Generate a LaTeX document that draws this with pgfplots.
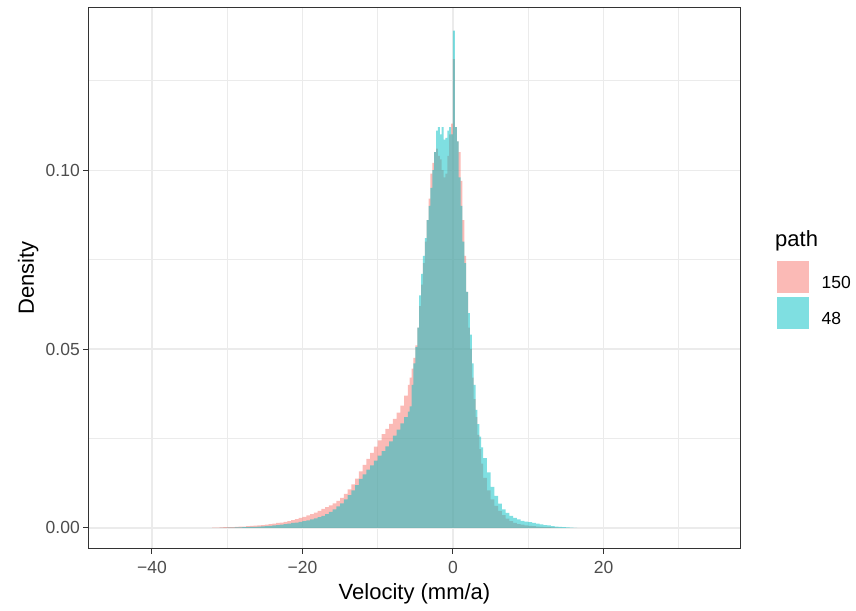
\documentclass[border=0pt]{standalone}
\usepackage{fontspec}
\setmainfont{Liberation Sans}
\usepackage{pgfplots}
\pgfplotsset{compat=1.18}
\definecolor{c150}{HTML}{F8766D}
\definecolor{c48}{HTML}{00BFC4}
\definecolor{gridgray}{HTML}{EBEBEB}
\definecolor{tickgray}{HTML}{4D4D4D}
\definecolor{framegray}{HTML}{333333}

\begin{document}
\begin{tikzpicture}
\begin{axis}[
    scale only axis,
    width=651bp, height=540bp,
    xmin=-48.37, xmax=38.14,
    ymin=-0.0056, ymax=0.1453,
    clip=false,
    xtick={-40,-20,0,20},
    xticklabels={−40,−20,0,20},
    ytick={0,0.05,0.10},
    yticklabels={0.00,0.05,0.10},
    minor xtick={-30,-10,10,30},
    minor ytick={0.025,0.075,0.125},
    grid=both,
    major grid style={gridgray, line width=1.1bp},
    minor grid style={gridgray, line width=0.55bp},
    tick align=outside,
    xtick pos=lower, ytick pos=left,
    major tick length=5.5bp, minor tick length=0pt,
    tick style={framegray, line width=1bp},
    axis line style={framegray, line width=1bp},
    ticklabel style={font=\fontsize{17.5bp}{20bp}\selectfont, text=tickgray, inner sep=0pt},
    xticklabel style={anchor=north, yshift=-7.5bp},
    yticklabel style={anchor=east, xshift=-3.5bp},
    every axis x label/.style={at={(axis description cs:0.5,0)}, yshift=-51bp, anchor=base},
    every axis y label/.style={at={(axis description cs:0,0.5)}, xshift=-55bp, rotate=90, anchor=base},
    label style={font=\fontsize{22bp}{26bp}\selectfont, inner sep=0pt},
    xlabel={Velocity (mm/a)},
    ylabel={Density},
    legend image code/.code={\fill[#1] (0bp,-9.7bp) rectangle (32bp,22.3bp);},
    legend style={at={(axis description cs:1,0.532)}, xshift=36.7bp, anchor=north west,
        draw=none, fill=none, inner sep=0pt, outer sep=0pt,
        row sep=4bp, column sep=13bp,
        font=\fontsize{17.5bp}{20bp}\selectfont,
        nodes={inner sep=0pt}},
    legend cell align=left,
]

% path = 150
\addplot[const plot, draw=none, fill=c150, fill opacity=0.5] coordinates {
(-32,0.0001) (-31.5,0.0001) (-31,0.00015) (-30.5,0.0002) (-30,0.0002) (-29.5,0.00025)
(-29,0.0003) (-28.5,0.00035) (-28,0.0004) (-27.5,0.0005) (-27,0.00055) (-26.5,0.00065)
(-26,0.0007) (-25.5,0.0008) (-25,0.0009) (-24.5,0.0011) (-24,0.0012) (-23.5,0.0014)
(-23,0.0015) (-22.5,0.0017) (-22,0.0019) (-21.5,0.0022) (-21,0.0025) (-20.5,0.0028)
(-20,0.0031) (-19.5,0.0035) (-19,0.0039) (-18.5,0.0043) (-18,0.0048) (-17.5,0.0053)
(-17,0.0058) (-16.5,0.0063) (-16,0.0069) (-15.5,0.0076) (-15,0.0084) (-14.5,0.0095)
(-14,0.0108) (-13.5,0.0122) (-13,0.0138) (-12.5,0.0158) (-12,0.0176) (-11.5,0.0193)
(-11,0.0210) (-10.5,0.0227) (-10,0.0245) (-9.5,0.0262) (-9,0.0277) (-8.5,0.0291)
(-8,0.0305) (-7.5,0.0322) (-7,0.0342) (-6.5,0.0370)
(-6,0.0400) (-5.75,0.0420) (-5.5,0.0445) (-5.25,0.0475) (-5,0.0510) (-4.75,0.0560)
(-4.5,0.0620) (-4.25,0.0680) (-4,0.0740) (-3.75,0.0800) (-3.5,0.0860) (-3.25,0.0920)
(-3,0.0990) (-2.75,0.1020) (-2.5,0.1050) (-2.25,0.1060) (-2,0.1040) (-1.75,0.1030)
(-1.5,0.1000) (-1.25,0.0980) (-1,0.0990) (-0.75,0.1040) (-0.5,0.1100) (-0.25,0.1130)
(0,0.1310) (0.25,0.1120) (0.5,0.1080) (0.75,0.1050) (1,0.0970) (1.25,0.0860)
(1.5,0.0760) (1.75,0.0660) (2,0.0560) (2.25,0.0500) (2.5,0.0420) (2.75,0.0360)
(3,0.0310) (3.25,0.0260) (3.5,0.0220) (3.75,0.0180)
(4,0.0140) (4.5,0.0105) (5,0.0080) (5.5,0.0062) (6,0.0048) (6.5,0.0036)
(7,0.0026) (7.5,0.0019) (8,0.0014) (8.5,0.0011) (9,0.0009) (9.5,0.0007)
(10,0.0006) (10.5,0.0005) (11,0.0004) (11.5,0.0003) (12,0.00025) (12.5,0.0002)
(13,0.00015) (13.5,0.0001) (14,0.00005) (14.5,0)
} \closedcycle;
\addlegendentry{150}

% path = 48
\addplot[const plot, draw=none, fill=c48, fill opacity=0.5] coordinates {
(-31,0.00005) (-30,0.0001) (-29,0.00015) (-28,0.0002) (-27,0.0003) (-26,0.0004)
(-25.5,0.00045) (-25,0.0005) (-24.5,0.0006) (-24,0.0007) (-23.5,0.0008) (-23,0.0009)
(-22.5,0.0011) (-22,0.0012) (-21.5,0.0014) (-21,0.0015) (-20.5,0.0017) (-20,0.0019)
(-19.5,0.0021) (-19,0.0024) (-18.5,0.0027) (-18,0.0030) (-17.5,0.0034) (-17,0.0039)
(-16.5,0.0045) (-16,0.0052) (-15.5,0.0060) (-15,0.0069) (-14.5,0.0080) (-14,0.0092)
(-13.5,0.0105) (-13,0.0120) (-12.5,0.0137) (-12,0.0150) (-11.5,0.0163) (-11,0.0175)
(-10.5,0.0188) (-10,0.0202) (-9.5,0.0215) (-9,0.0228) (-8.5,0.0242) (-8,0.0258)
(-7.5,0.0275) (-7,0.0292) (-6.5,0.0310)
(-6,0.0325) (-5.75,0.0340) (-5.5,0.0400) (-5.25,0.0460) (-5,0.0505) (-4.75,0.0560)
(-4.5,0.0650) (-4.25,0.0710) (-4,0.0760) (-3.75,0.0810) (-3.5,0.0860) (-3.25,0.0900)
(-3,0.0950) (-2.75,0.1000) (-2.5,0.1050) (-2.25,0.1110) (-2,0.1120) (-1.75,0.1100)
(-1.5,0.1120) (-1.25,0.1085) (-1,0.1090) (-0.75,0.1110) (-0.5,0.1120) (-0.25,0.1100)
(0,0.1390) (0.25,0.1120) (0.5,0.1080) (0.75,0.0980) (1,0.0900) (1.25,0.0800)
(1.5,0.0740) (1.75,0.0660) (2,0.0600) (2.25,0.0540) (2.5,0.0460) (2.75,0.0400)
(3,0.0330) (3.25,0.0290) (3.5,0.0255) (3.75,0.0225)
(4,0.0195) (4.5,0.0155) (5,0.0115) (5.5,0.0090) (6,0.0068) (6.5,0.0052)
(7,0.0042) (7.5,0.0034) (8,0.0028) (8.5,0.0024) (9,0.0020) (9.5,0.0018)
(10,0.0016) (10.5,0.0014) (11,0.0012) (11.5,0.0010) (12,0.0008) (12.5,0.0007)
(13,0.0005) (13.5,0.0004) (14,0.0003) (14.5,0.0002) (15,0.00015) (15.5,0.0001)
(16,0.00005) (16.5,0)
} \closedcycle;
\addlegendentry{48}

\end{axis}
\node[anchor=base west, inner sep=0pt, font=\fontsize{22bp}{26bp}\selectfont] at (686bp,301bp) {path};
\pgfresetboundingbox
\path[use as bounding box] (-89bp,-63bp) rectangle (767bp,548bp);
\end{tikzpicture}
\end{document}
